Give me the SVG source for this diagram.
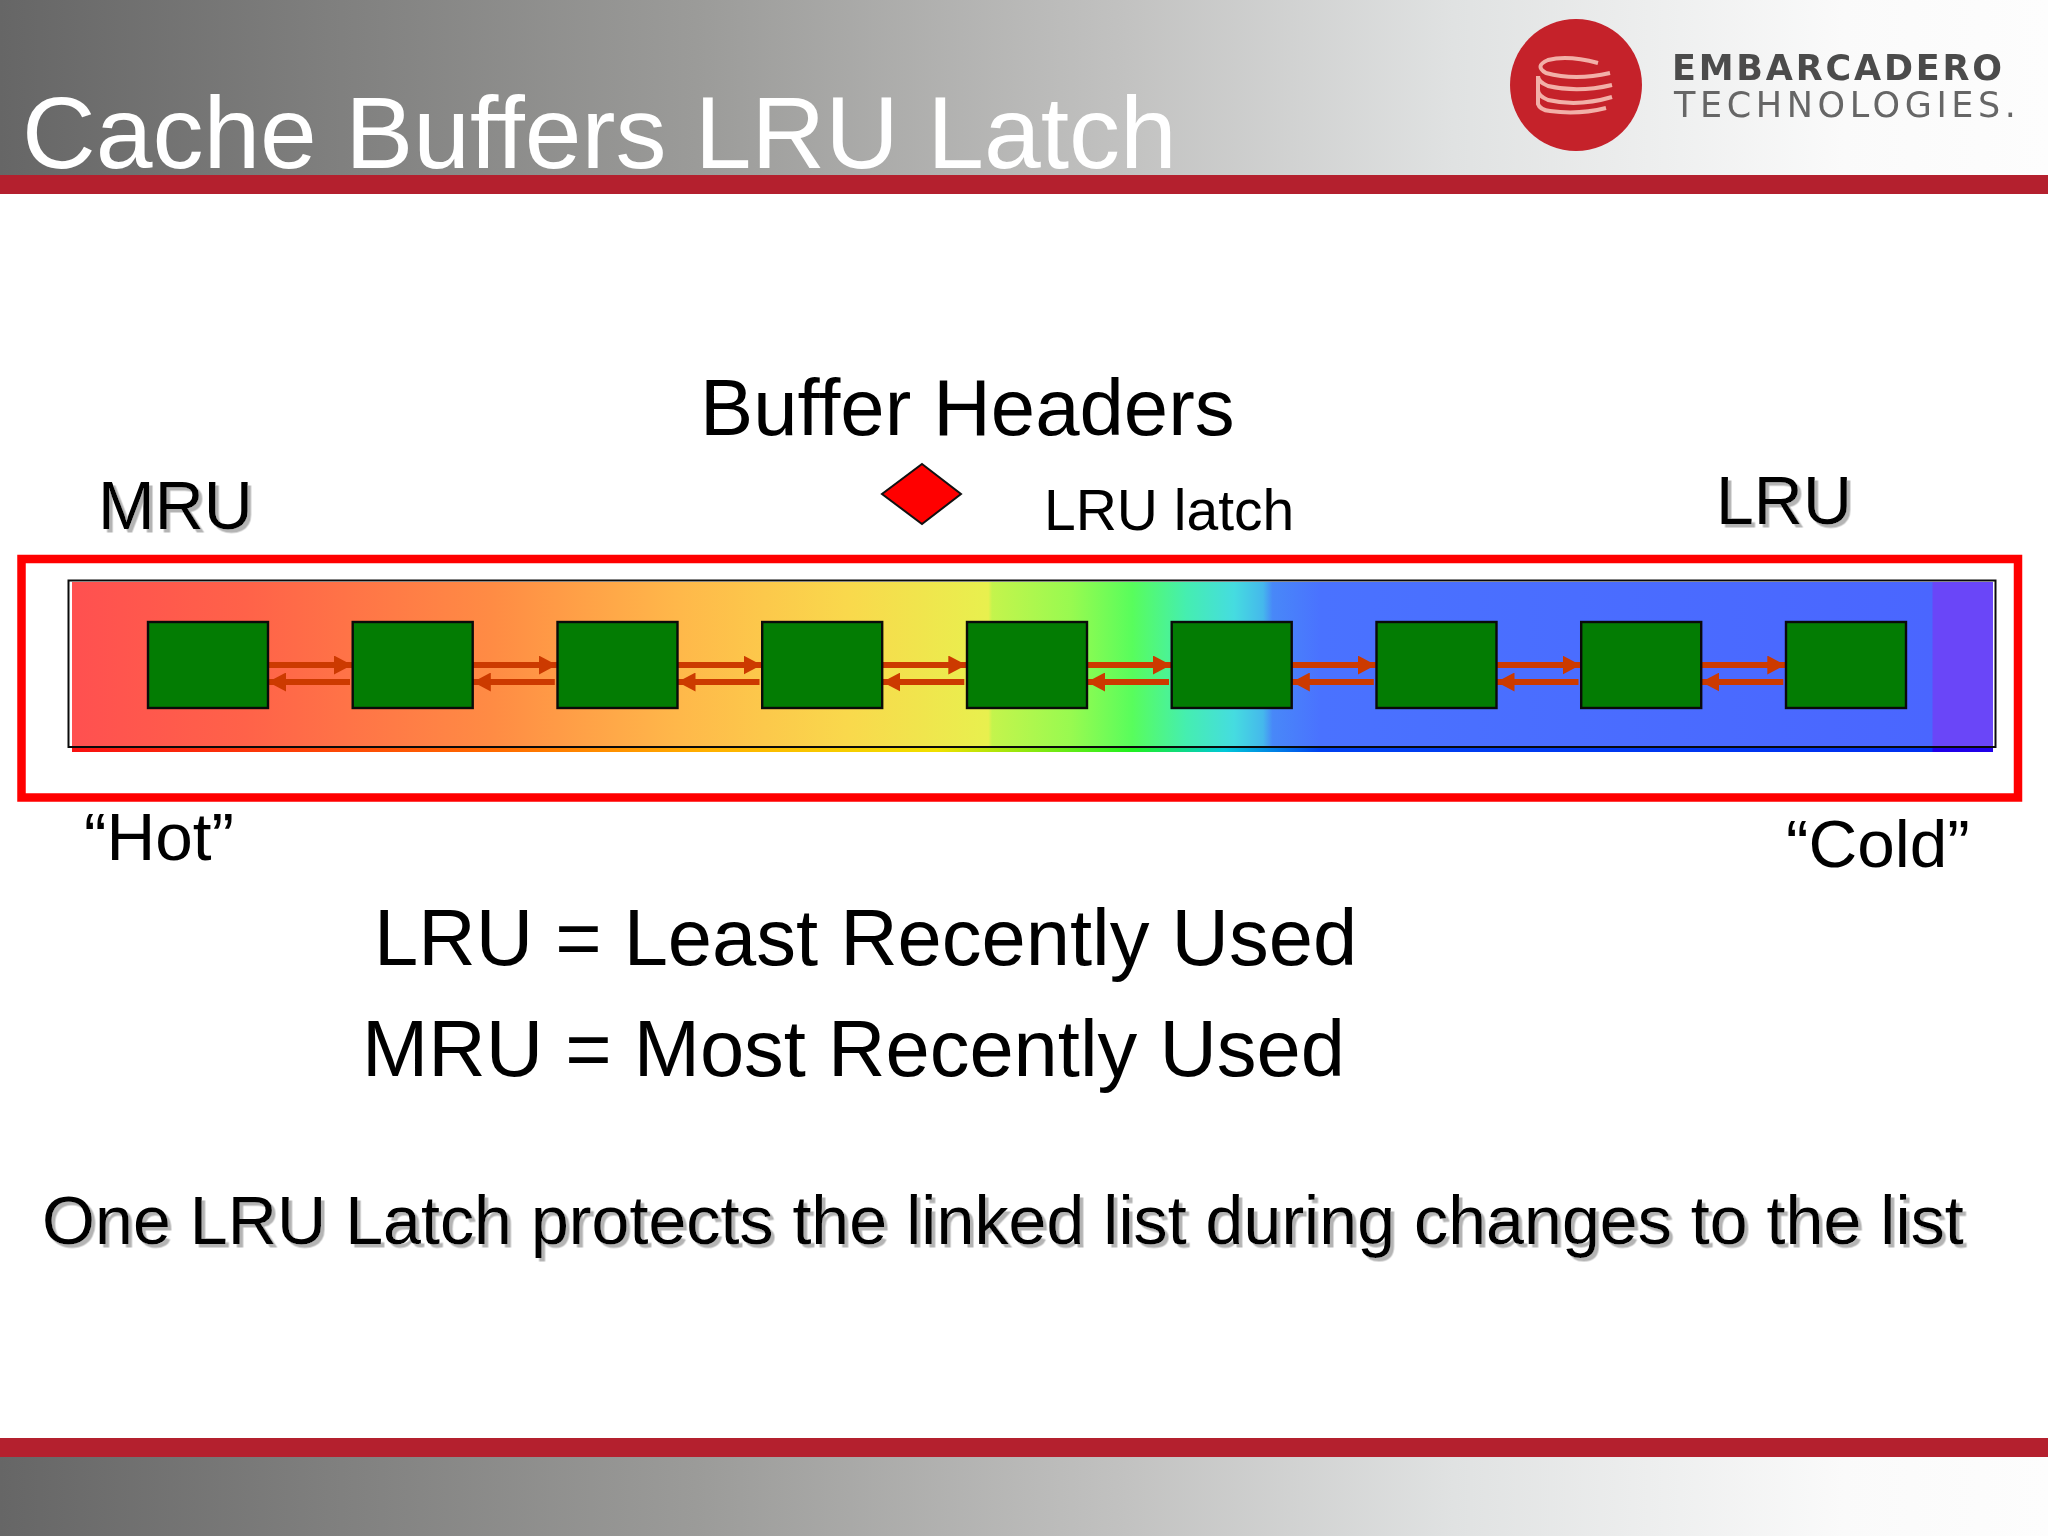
<svg xmlns="http://www.w3.org/2000/svg" width="2048" height="1536" viewBox="0 0 2048 1536">
<style>
text{font-family:"Liberation Sans",Arial,sans-serif;fill:#000}
.box{fill:#037c03;stroke:#0a0a0a;stroke-width:2.4}
.lnk{stroke:#cc3a00;stroke-width:6;fill:none;marker-end:url(#ah)}
.sh{filter:url(#ts)}
</style>
<defs>
<linearGradient id="hdr" x1="0" y1="0" x2="1" y2="0"><stop offset="0" stop-color="#666"/><stop offset=".34" stop-color="#9b9b99"/><stop offset=".55" stop-color="#c2c2c1"/><stop offset=".71" stop-color="#e0e2e2"/><stop offset=".9" stop-color="#fafafa"/><stop offset="1" stop-color="#fdfdfd"/></linearGradient>
<linearGradient id="rb" gradientUnits="userSpaceOnUse" x1="72" y1="0" x2="1993" y2="0">
<stop offset="0" stop-color="#ff5050"/><stop offset=".09" stop-color="#ff6249"/><stop offset=".22" stop-color="#ff8c44"/><stop offset=".316" stop-color="#ffb84a"/><stop offset=".405" stop-color="#f9d94c"/><stop offset=".477" stop-color="#e8f04e"/><stop offset=".479" stop-color="#c4f44c"/><stop offset=".52" stop-color="#98fa50"/><stop offset=".552" stop-color="#58fd5c"/><stop offset=".58" stop-color="#45eeb0"/><stop offset=".605" stop-color="#45dce0"/><stop offset=".62" stop-color="#45b8ec"/><stop offset=".625" stop-color="#4888f8"/><stop offset=".65" stop-color="#4a72ff"/><stop offset=".968" stop-color="#4a66ff"/><stop offset=".969" stop-color="#6a46f8"/><stop offset="1" stop-color="#6a46f8"/></linearGradient>
<linearGradient id="rs" gradientUnits="userSpaceOnUse" x1="72" y1="0" x2="1993" y2="0">
<stop offset="0" stop-color="#f81010"/><stop offset=".22" stop-color="#ff6a00"/><stop offset=".33" stop-color="#ffb000"/><stop offset=".45" stop-color="#f0e000"/><stop offset=".552" stop-color="#20f020"/><stop offset=".6" stop-color="#00c8d8"/><stop offset=".65" stop-color="#0040f0"/><stop offset=".968" stop-color="#0030f0"/><stop offset=".969" stop-color="#2000e8"/><stop offset="1" stop-color="#2000e8"/></linearGradient>
<filter id="ts" x="-5%" y="-20%" width="110%" height="140%"><feDropShadow dx="3.5" dy="3.5" stdDeviation=".5" flood-color="#b4b4b4"/></filter>
<filter id="bl" x="-5%" y="-5%" width="110%" height="110%"><feGaussianBlur stdDeviation=".7"/></filter>
<marker id="ah" markerUnits="userSpaceOnUse" markerWidth="18" markerHeight="19" refX="18" refY="9.5" orient="auto"><path d="M0 0L18 9.5L0 19Z" fill="#cc3a00"/></marker>
</defs>
<rect width="2048" height="1536" fill="#fff"/>
<g id="header">
<rect width="2048" height="176" fill="url(#hdr)"/>
<text x="22" y="168" font-size="102" style="fill:#fff">Cache Buffers LRU Latch</text>
<rect y="175" width="2048" height="19" fill="#b4202e"/>
</g>
<g id="logo">
<circle cx="1576" cy="85" r="66" fill="#c5202a" filter="url(#bl)"/>
<g fill="none" stroke="#f2b0a8" stroke-width="4" filter="url(#bl)">
<path d="M1598 63Q1568 55 1548 60Q1534 66 1546 73Q1575 81 1610 73"/>
<path d="M1538 76Q1538 82 1548 86Q1578 93 1612 85"/>
<path d="M1538 90Q1538 96 1548 100Q1578 107 1612 97"/>
<path d="M1538 76V104Q1540 110 1550 111Q1578 115 1606 108"/>
</g>
<text x="1672" y="80" font-size="35" font-weight="700" textLength="330" filter="url(#bl)" style="font-family:'DejaVu Sans',sans-serif;fill:#4c4c4c">EMBARCADERO</text>
<text x="1674" y="117" font-size="35" textLength="342" filter="url(#bl)" style="font-family:'DejaVu Sans',sans-serif;fill:#666">TECHNOLOGIES.</text>
</g>
<g id="footer">
<rect y="1438" width="2048" height="19" fill="#b4202e"/>
<rect y="1457" width="2048" height="79" fill="url(#hdr)"/>
</g>
<g id="frame"><rect x="21.5" y="559" width="1996.5" height="238.5" fill="none" stroke="#f00" stroke-width="8.500"/></g>
<g id="band">
<rect x="72" y="582" width="1921" height="170" fill="url(#rs)"/>
<rect x="72" y="582" width="1921" height="165" fill="url(#rb)"/>
<rect x="68.500" y="580.500" width="1927" height="166.500" fill="none" stroke="#0a0a0a" stroke-width="2"/>
</g>
<g id="connectors">
<path class="lnk" d="M268 665H352"/><path class="lnk" d="M350 682H268"/>
<path class="lnk" d="M472.800 665H556.800"/><path class="lnk" d="M554.800 682H472.800"/>
<path class="lnk" d="M677.500 665H761.500"/><path class="lnk" d="M759.500 682H677.500"/>
<path class="lnk" d="M882.300 665H966.300"/><path class="lnk" d="M964.300 682H882.300"/>
<path class="lnk" d="M1087 665H1171"/><path class="lnk" d="M1169 682H1087"/>
<path class="lnk" d="M1291.800 665H1375.800"/><path class="lnk" d="M1373.800 682H1291.800"/>
<path class="lnk" d="M1496.500 665H1580.500"/><path class="lnk" d="M1578.500 682H1496.500"/>
<path class="lnk" d="M1701.300 665H1785.300"/><path class="lnk" d="M1783.300 682H1701.300"/>
</g>
<g id="node1"><rect class="box" x="148" y="622" width="120" height="86"/></g>
<g id="node2"><rect class="box" x="352.700" y="622" width="120" height="86"/></g>
<g id="node3"><rect class="box" x="557.500" y="622" width="120" height="86"/></g>
<g id="node4"><rect class="box" x="762.200" y="622" width="120" height="86"/></g>
<g id="node5"><rect class="box" x="967" y="622" width="120" height="86"/></g>
<g id="node6"><rect class="box" x="1171.700" y="622" width="120" height="86"/></g>
<g id="node7"><rect class="box" x="1376.500" y="622" width="120" height="86"/></g>
<g id="node8"><rect class="box" x="1581.200" y="622" width="120" height="86"/></g>
<g id="node9"><rect class="box" x="1786" y="622" width="120" height="86"/></g>
<g id="latch"><path d="M922 464L961 494L922 524L882 494Z" fill="#f00" stroke="#111" stroke-width="2"/></g>
<g id="labels">
<text x="700" y="434.500" font-size="79.700">Buffer Headers</text>
<text class="sh" x="98" y="529" font-size="68">MRU</text>
<text x="1044" y="530" font-size="57">LRU latch</text>
<text class="sh" x="1716" y="524" font-size="68">LRU</text>
<text x="84" y="860" font-size="67.500">“Hot”</text>
<text x="1786" y="867" font-size="67.500">“Cold”</text>
<text x="374" y="965" font-size="79.500">LRU = Least Recently Used</text>
<text x="362" y="1076" font-size="79.500">MRU = Most Recently Used</text>
<text class="sh" x="42" y="1244" font-size="68.200">One LRU Latch protects the linked list during changes to the list</text>
</g>
</svg>
